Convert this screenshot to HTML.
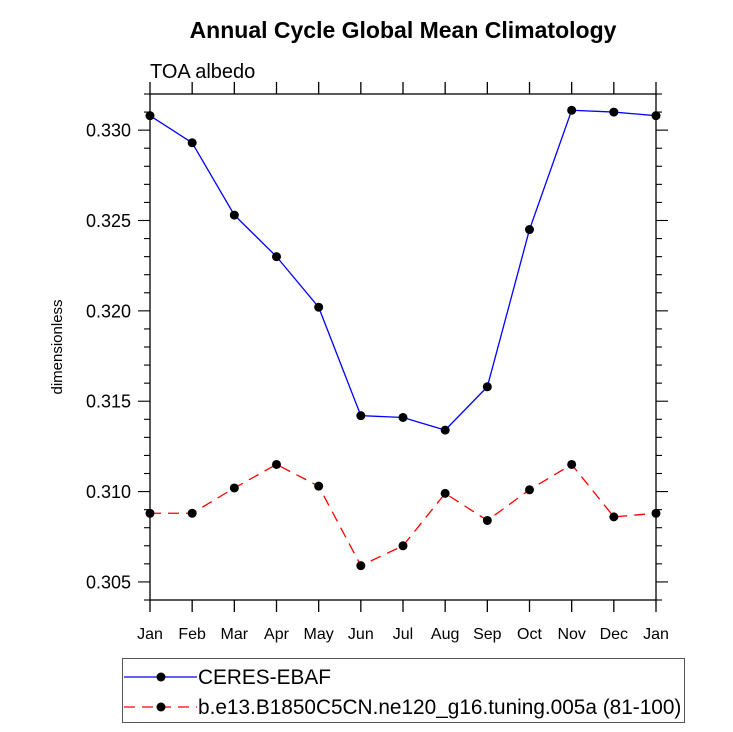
<!DOCTYPE html>
<html><head><meta charset="utf-8"><style>
body{margin:0;background:#fff}
svg{display:block;font-family:"Liberation Sans",Helvetica,Arial,sans-serif}
</style></head><body>
<svg id="chart" width="733" height="732" viewBox="0 0 733 732">
<text x="403" y="38" text-anchor="middle" font-size="23" font-weight="bold">Annual Cycle Global Mean Climatology</text>
<text x="150" y="78" font-size="20">TOA albedo</text>
<text transform="translate(62,347) rotate(-90)" text-anchor="middle" font-size="15">dimensionless</text>
<g id="axes"></g>
<g id="series"></g>
<g>
<rect x="122.5" y="658.5" width="562" height="64" fill="none" stroke="#555" stroke-width="1"/>
<g>
<line x1="124" y1="677" x2="197" y2="677" stroke="#0000ff" stroke-width="1.3"/>
<circle cx="161" cy="677" r="4.5" fill="#000"/>
<text x="198" y="684" font-size="20.8">CERES-EBAF</text>
</g>
<g>
<line x1="124" y1="707" x2="197" y2="707" stroke="#ff0000" stroke-width="1.3" stroke-dasharray="11,7"/>
<circle cx="161" cy="707" r="4.5" fill="#000"/>
<text x="198" y="714" font-size="20.8">b.e13.B1850C5CN.ne120_g16.tuning.005a (81-100)</text>
</g>
</g>
</svg>
<script>
const months=["Jan","Feb","Mar","Apr","May","Jun","Jul","Aug","Sep","Oct","Nov","Dec","Jan"];
const ceres=[0.3308,0.3293,0.3253,0.3230,0.3202,0.3142,0.3141,0.3134,0.3158,0.3245,0.3311,0.3310,0.3308];
const model=[0.3088,0.3088,0.3102,0.3115,0.3103,0.3059,0.3070,0.3099,0.3084,0.3101,0.3115,0.3086,0.3088];
const yTicks=["0.305","0.310","0.315","0.320","0.325","0.330"];
const X0=150,X1=656,Y0=600,Y1=94,ymin=0.304,ymax=0.332;
const NS="http://www.w3.org/2000/svg";
function xs(i){return X0+(X1-X0)*i/(months.length-1);}
function ys(v){return Y0-(v-ymin)/(ymax-ymin)*(Y0-Y1);}
function mk(t,a,p){const e=document.createElementNS(NS,t);for(const k in a)e.setAttribute(k,a[k]);p.appendChild(e);return e;}
const ax=document.getElementById('axes');
const fr=mk('rect',{x:X0,y:Y1,width:X1-X0,height:Y0-Y1,fill:'none',stroke:'#000','stroke-width':1.3},ax);


months.forEach((m,i)=>{
 const x=xs(i);
 mk('line',{x1:x,y1:Y0,x2:x,y2:Y0+12,stroke:'#000','stroke-width':1.3},ax);
 mk('line',{x1:x,y1:Y1,x2:x,y2:Y1-12,stroke:'#000','stroke-width':1.3},ax);
 const t=mk('text',{x:x,y:639,'text-anchor':'middle','font-size':16},ax);
 t.textContent=m;
 
 
});
for(let k=0;k<=28;k++){
 const v=ymin+k*0.001, y=ys(v);
 const major=(k%5)===1;
 const L=major?12:6;
 mk('line',{x1:X0-L,y1:y,x2:X0,y2:y,stroke:'#000','stroke-width':1.1},ax);
 mk('line',{x1:X1,y1:y,x2:X1+L,y2:y,stroke:'#000','stroke-width':1.1},ax);
}
yTicks.forEach(s=>{
 const t=mk('text',{x:131,y:ys(parseFloat(s))+6.5,'text-anchor':'end','font-size':18},ax);
 t.textContent=s;
 
 
});
const sg=document.getElementById('series');
function draw(vals,color,dash,name){
 const g=mk('g',{},sg);
 
 
 const pts=vals.map((v,i)=>xs(i)+','+ys(v)).join(' ');
 const a={points:pts,fill:'none',stroke:color,'stroke-width':1.3};
 if(dash)a['stroke-dasharray']=dash;
 mk('polyline',a,g);
 vals.forEach((v,i)=>{
  const c=mk('circle',{cx:xs(i),cy:ys(v),r:4.5,fill:'#000'},g);
  
  
 });
}
draw(ceres,'#0000ff',null,'series-ceres-ebaf');
draw(model,'#ff0000','11,7','series-model');
</script>
</body></html>
